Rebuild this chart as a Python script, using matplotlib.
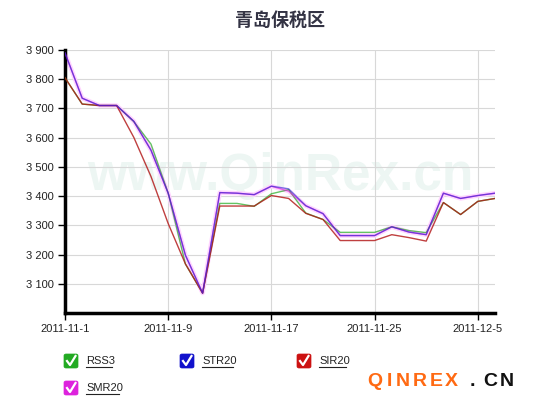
import numpy as np
import matplotlib
matplotlib.use("Agg")
import matplotlib.pyplot as plt
from matplotlib.patches import FancyBboxPatch
from matplotlib.lines import Line2D
from matplotlib.ticker import FuncFormatter

plt.rcParams['font.family'] = ['Liberation Sans', 'Noto Sans CJK SC', 'DejaVu Sans']

title = "青岛保税区"
dates = ["2011-11-1", "2011-11-2", "2011-11-3", "2011-11-4", "2011-11-7", "2011-11-8",
         "2011-11-9", "2011-11-10", "2011-11-11", "2011-11-14", "2011-11-15", "2011-11-16",
         "2011-11-17", "2011-11-18", "2011-11-21", "2011-11-22", "2011-11-23", "2011-11-24",
         "2011-11-25", "2011-11-28", "2011-11-29", "2011-11-30", "2011-12-1", "2011-12-2",
         "2011-12-5", "2011-12-6"]
rss3 = [3805, 3715, 3710, 3710, 3655, 3578, 3410, 3168, 3068, 3375, 3375, 3365,
        3408, 3422, 3342, 3320, 3276, 3276, 3276, 3295, 3282, 3275, 3378, 3337, 3382, 3392]
str20 = [3890, 3735, 3710, 3710, 3656, 3557, 3410, 3198, 3068, 3412, 3410, 3405,
         3434, 3425, 3367, 3340, 3265, 3265, 3265, 3295, 3277, 3268, 3410, 3392, 3402, 3410]
sir20 = [3805, 3715, 3710, 3710, 3601, 3467, 3306, 3168, 3068, 3366, 3366, 3366,
         3402, 3392, 3341, 3320, 3248, 3248, 3248, 3268, 3258, 3246, 3378, 3337, 3382, 3392]
smr20 = [3890, 3735, 3710, 3710, 3656, 3557, 3410, 3198, 3068, 3412, 3410, 3405,
         3434, 3417, 3367, 3340, 3265, 3265, 3265, 3295, 3277, 3268, 3410, 3392, 3402, 3410]
series = ["RSS3", "STR20", "SIR20", "SMR20"]
colors = ["#22aa22", "#1111cc", "#cc1111", "#dd22dd"]
yticks = [3100, 3200, 3300, 3400, 3500, 3600, 3700, 3800, 3900]
label_idx = [0, 6, 12, 18, 24]

fig = plt.figure(figsize=(5.37, 4.05), dpi=100)
W, H = 537, 405
ax = fig.add_axes([65 / W, 1 - 313 / H, (495 - 65) / W, (313 - 50) / H])

x = np.arange(len(dates))

# watermark
ax.text(0.5, 0.52, "www.QinRex.cn", transform=ax.transAxes, ha="center", va="center",
        fontsize=37, fontweight="bold", color="#edf6f3", zorder=0)

ax.plot(x, smr20, color="#ffd4ff", lw=3.2, zorder=2)
ax.plot(x, rss3, color=colors[0], lw=1.0, alpha=0.7, zorder=3)
ax.plot(x, sir20, color="#b01010", lw=1.0, alpha=0.8, zorder=3)
ax.plot(x, smr20, color=colors[3], lw=1.0, alpha=0.65, zorder=3)
ax.plot(x, str20, color=colors[1], lw=1.0, alpha=0.55, zorder=3)

ax.set_xlim(0, len(dates) - 1)
ax.set_ylim(3000, 3900)
ax.set_yticks(yticks)
ax.yaxis.set_major_formatter(FuncFormatter(lambda v, p: f"{int(v):,}".replace(",", " ")))
ax.set_xticks(label_idx)
ax.set_xticklabels([dates[i] for i in label_idx])
ax.grid(True, color="#d8d8d8", lw=0.8)
ax.set_axisbelow(True)
for s in ["top", "right"]:
    ax.spines[s].set_visible(False)
for s in ["left", "bottom"]:
    ax.spines[s].set_linewidth(2.5)
    ax.spines[s].set_color("black")
ax.tick_params(axis="both", length=5, width=1, labelsize=8, colors="black", pad=3)
for lab in ax.get_yticklabels() + ax.get_xticklabels():
    lab.set_color("#222222")

fig.text(280 / W, 1 - 21 / H, title, ha="center", va="center", fontsize=13,
         fontweight="bold", color="#333344")

# legend with checkboxes
legend_pos = [(64, 361), (180, 361), (297, 361), (64, 388)]
for (px, py), name, c in zip(legend_pos, series, colors):
    box = FancyBboxPatch(((px) / W, 1 - (py + 7) / H), 14 / W, 14 / H,
                         boxstyle="round,pad=0,rounding_size=0.004",
                         transform=fig.transFigure, facecolor=c, edgecolor=c, lw=0.5)
    fig.patches.append(box)
    fig.lines.append(Line2D([(px + 3) / W, (px + 6) / W, (px + 11.5) / W],
                            [1 - (py) / H, 1 - (py + 4) / H, 1 - (py - 5) / H],
                            transform=fig.transFigure, color="white", lw=1.6))
    fig.text((px + 22) / W, 1 - py / H, name, ha="left", va="center", fontsize=8,
             color="#222222")
    tw = {"RSS3": 26, "STR20": 31, "SIR20": 27, "SMR20": 33}[name]
    fig.lines.append(Line2D([(px + 22) / W, (px + 22 + tw) / W],
                            [1 - (py + 6) / H, 1 - (py + 6) / H],
                            transform=fig.transFigure, color="#222222", lw=0.8))

# brand mark
brand = [("Q", 367, "#ff6a13"), ("I", 387, "#ff6a13"), ("N", 396, "#ff6a13"),
         ("R", 413, "#ff6a13"), ("E", 430, "#ff6a13"), ("X", 445, "#ff6a13"),
         (".", 470, "#111111"), ("C", 483, "#111111"), ("N", 500, "#111111")]
for ch, px, c in brand:
    fig.text(px / W, 1 - 382 / H, ch, ha="left", va="center", fontsize=14,
             fontweight="bold", color=c)

fig.savefig("out.png", dpi=100)
